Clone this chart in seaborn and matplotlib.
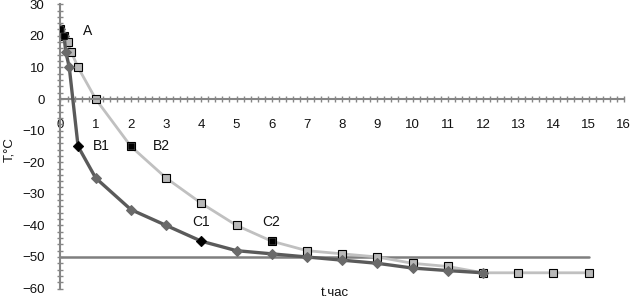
import matplotlib
matplotlib.use("Agg")
import matplotlib.pyplot as plt
import seaborn as sns
import numpy as np
from matplotlib.ticker import MultipleLocator

# Data
t1 = [0, 0.1, 0.15, 0.25, 0.5, 1, 2, 3, 4, 5, 6, 7, 8, 9, 10, 11, 12]
T1 = [22, 20, 15, 10, -15, -25, -35, -40, -45, -48, -49, -50, -51, -52, -53.5, -54.3, -55]
t2 = [0, 0.1, 0.2, 0.3, 0.5, 1, 2, 3, 4, 5, 6, 7, 8, 9, 10, 11, 12, 13, 14, 15]
T2 = [22, 20, 18, 15, 10, 0, -15, -25, -33, -40, -45, -48, -49, -50, -52, -53, -55, -55, -55, -55]
key1_t = [0.5, 4]
key1_T = [-15, -45]
key2_t = [0, 0.1, 2, 6]
key2_T = [22, 20, -15, -45]
labels = ["A", "B1", "B2", "C1", "C2"]
label_t = [0.64, 0.92, 2.62, 3.74, 5.72]
label_T = [21.5, -15, -15, -39, -39]
limit_t = [0, 15]
limit_T = [-50, -50]

sns.set_style("white")
plt.rcParams['font.family'] = ['Liberation Sans', 'DejaVu Sans']

fig = plt.figure(figsize=(6.32, 3.05), dpi=100)
ax = fig.add_axes([0.0957, 0.0538, 0.8913, 0.9324])

sns.lineplot(x=limit_t, y=limit_T, ax=ax, color="#7f7f7f", linewidth=1.8, sort=False, zorder=1)
sns.lineplot(x=t2, y=T2, ax=ax, color="#c0c0c0", linewidth=2.0, sort=False,
             marker="s", markersize=5.5, markerfacecolor="#b8b8b8",
             markeredgecolor="#000000", markeredgewidth=0.8, zorder=2)
sns.lineplot(x=t1, y=T1, ax=ax, color="#5a5a5a", linewidth=2.4, sort=False,
             marker="D", markersize=5, markerfacecolor="#6a6a6a",
             markeredgecolor="#6a6a6a", zorder=3)
sns.scatterplot(x=key1_t, y=key1_T, ax=ax, marker="D", s=28, color="black", edgecolor="black", zorder=4)
sns.scatterplot(x=key2_t, y=key2_T, ax=ax, marker="s", s=22, color="black", edgecolor="black", zorder=4)

for lab, lt, lT in zip(labels, label_t, label_T):
    ax.text(lt, lT, lab, fontsize=10, ha="left", va="center", color="#111111")

ax.set_xlim(0, 16)
ax.set_ylim(-60, 30)
ax.spines['top'].set_visible(False)
ax.spines['right'].set_visible(False)
ax.spines['bottom'].set_position(('data', 0))
for s in ['left', 'bottom']:
    ax.spines[s].set_color('#868686')
    ax.spines[s].set_linewidth(1.5)

ax.xaxis.set_major_locator(MultipleLocator(1))
ax.xaxis.set_minor_locator(MultipleLocator(0.2))
ax.yaxis.set_major_locator(MultipleLocator(10))
ax.yaxis.set_minor_locator(MultipleLocator(2))
ax.tick_params(which='both', bottom=True, left=True, direction='inout', length=5, width=1,
               color='#868686', labelsize=9.5, labelcolor='#111111')
ax.tick_params(axis='x', which='major', pad=12)
ax.tick_params(axis='y', which='major', pad=9)
ax.set_xticks(range(0, 17))
ax.set_xticklabels([str(i) for i in range(0, 17)])

ax.set_xlabel("")
ax.set_ylabel("")
fig.text(335 / 632, 1 - 293 / 305, "t.час", fontsize=9.5, ha="center", va="center", color="#111111")
fig.text(9 / 632, 1 - 150 / 305, "T,°C", fontsize=9.5, ha="center", va="center", rotation=90, color="#111111")

fig.savefig("out.png", dpi=100)
